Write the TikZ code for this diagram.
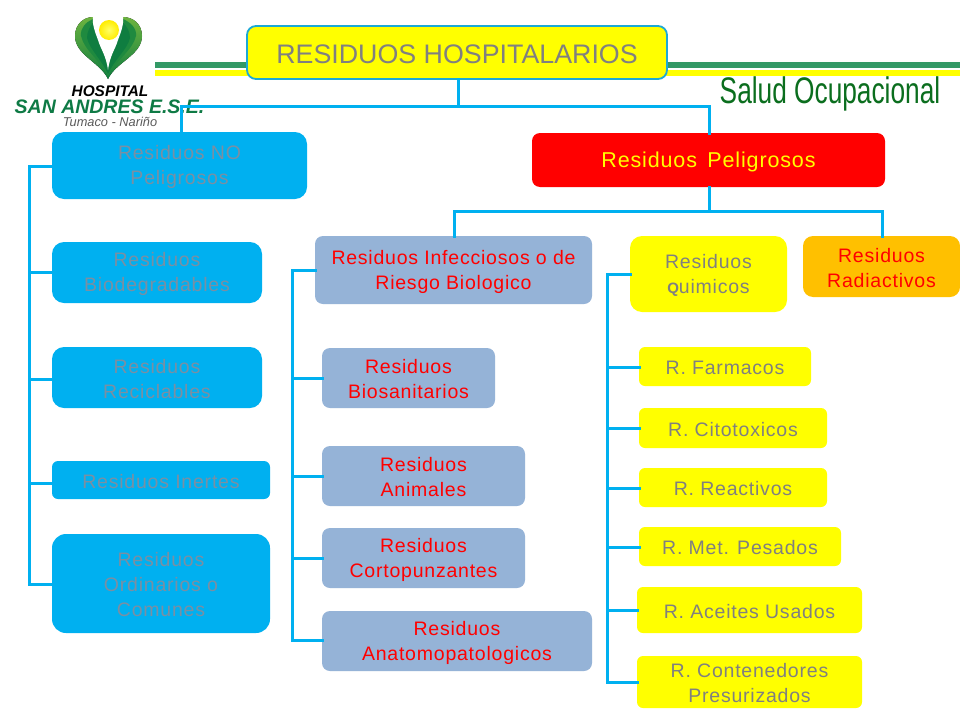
\documentclass[tikz,border=0pt]{standalone}
\usepackage{fontspec}
\setmainfont[LetterSpace=4]{Liberation Sans}
\newfontfamily\plainf{Liberation Sans}
\definecolor{cyanb}{HTML}{00B0F0}
\definecolor{titleb}{HTML}{1CA9D6}
\definecolor{steel}{HTML}{95B3D7}
\definecolor{ambr}{HTML}{FFC000}
\definecolor{gtxt}{HTML}{808080}
\definecolor{btxt}{HTML}{7A8FA3}
\definecolor{stripe}{HTML}{339966}
\definecolor{saludg}{HTML}{0B6E1E}
\definecolor{logog}{HTML}{0E7A45}
\definecolor{pureyel}{HTML}{FFFF00}
\definecolor{purered}{HTML}{FF0000}
\definecolor{lobea}{HTML}{6DB33F}
\definecolor{lobeb}{HTML}{0F7D40}
\definecolor{lobec}{HTML}{1F8A3F}
\tikzset{
 x=1pt,y=-1pt,
 boxbase/.style={rounded corners=#1,align=center,inner sep=0pt,font=\fontsize{19.5}{25}\selectfont},
 boxbase/.default=9pt,
 bluebox/.style={boxbase=12pt,fill=cyanb,text=btxt},
 steelbox/.style={boxbase=8pt,fill=steel,text=purered},
 yelbox/.style={boxbase=6pt,fill=pureyel,text=gtxt},
 conn/.style={draw=cyanb,line width=3pt,line cap=rect},
}
\newcommand{\bx}[7]{% style,name,x0,y0,x1,y1,text
 \path[#1] (#3,#4) rectangle (#5,#6) node[pos=.5,align=center,inner sep=0pt,yshift=-1.5pt] (#2) {#7};
}
\begin{document}
\begin{tikzpicture}
\useasboundingbox (0,0) rectangle (960,720);
\fill[white] (0,0) rectangle (960,720);
\fill[stripe] (155,62) rectangle (960,68);
\fill[pureyel] (155,70) rectangle (960,76);
% logo
\fill[top color=lobea,bottom color=lobeb] (108,79) .. controls (100,62) and (75,55) .. (75,36) .. controls (75,24) and (84,17) .. (93,17) -- (123,17) .. controls (133,17) and (142,24) .. (142,36) .. controls (142,55) and (116,62) .. (108,79) -- cycle;
\fill[lobec] (108,76) .. controls (100,60) and (84,50) .. (81,36) .. controls (80,28) and (86,22) .. (93,19) -- (123,19) .. controls (130,22) and (137,28) .. (136,36) .. controls (133,50) and (116,60) .. (108,76) -- cycle;
\fill[lobeb] (108,74) .. controls (102,60) and (90,50) .. (87,38) .. controls (87,32) and (90,26) .. (93,23) -- (123,23) .. controls (127,26) and (130,32) .. (130,38) .. controls (127,50) and (114,60) .. (108,74) -- cycle;
\fill[white] (108,70) .. controls (106,55) and (101,50) .. (98,40) .. controls (95,32) and (92,24) .. (93,17) -- (93,10) -- (123,10) -- (123,17) .. controls (124,24) and (121,32) .. (118,40) .. controls (115,50) and (110,55) .. (108,70) -- cycle;
\shade[inner color=pureyel!60!white,outer color=pureyel!85!orange] (109,30) circle (10);
\node[font=\plainf\fontsize{15.4}{15}\selectfont\bfseries\itshape,text=black,inner sep=0pt] (lg1) at (110,91) {HOSPITAL};
\node[font=\plainf\fontsize{19.5}{20}\selectfont\bfseries\itshape,text=logog,inner sep=0pt] (lg2) at (109.5,107) {SAN ANDRES E.S.E.};
\node[font=\plainf\fontsize{12.8}{12}\selectfont\itshape,text=gtxt!70!black,inner sep=0pt] (lg3) at (110,121.5) {Tumaco - Nariño};
\node[font=\plainf\fontsize{37}{37}\selectfont,text=saludg,inner sep=0pt,xscale=.71] (salud) at (830,94) {Salud Ocupacional};
% title
\bx{boxbase=9pt,fill=pureyel,draw=titleb,line width=1.8pt,text=gtxt}{title}{247}{26}{667}{79}{\plainf\fontsize{26.8}{28}\selectfont RESIDUOS HOSPITALARIOS}
% boxes
\bx{bluebox}{nop}{52}{132}{307}{199}{Residuos NO\\Peligrosos}
\bx{bluebox}{bio}{52}{242}{262}{303}{Residuos\\Biodegradables}
\bx{bluebox}{rec}{52}{347}{262}{408}{Residuos\\Reciclables}
\bx{boxbase=6pt,fill=cyanb,text=btxt}{ine}{52}{461}{270}{499}{Residuos Inertes}
\bx{boxbase=14pt,fill=cyanb,text=btxt}{ord}{52}{534}{270}{633}{Residuos\\Ordinarios o\\Comunes}
\bx{boxbase=8pt,fill=purered,text=pureyel}{pel}{532}{133}{885}{187}{\fontsize{21.5}{24}\selectfont Residuos\, Peligrosos}
\bx{steelbox}{inf}{315}{236}{592}{304}{Residuos Infecciosos o de\\Riesgo Biologico}
\bx{steelbox}{bsa}{322}{348}{495}{408}{Residuos\\Biosanitarios}
\bx{steelbox}{ani}{322}{446}{525}{506}{Residuos\\Animales}
\bx{steelbox}{cor}{322}{528}{525}{588}{Residuos\\Cortopunzantes}
\bx{steelbox}{ana}{322}{611}{592}{671}{Residuos\\Anatomopatologicos}
\bx{boxbase=12pt,fill=pureyel,text=gtxt}{qui}{630}{236}{787}{312}{Residuos\\{\fontsize{15}{25}\selectfont\bfseries Q}uimicos}
\bx{boxbase=10pt,fill=ambr,text=purered}{rad}{803}{236}{960}{297}{Residuos\\Radiactivos}
\bx{yelbox}{far}{639}{347}{811}{386}{R. Farmacos}
\bx{yelbox}{cit}{639}{408}{827}{448}{R. Citotoxicos}
\bx{yelbox}{rea}{639}{468}{827}{507}{R. Reactivos}
\bx{yelbox}{met}{639}{527}{841}{566}{R. Met. Pesados}
\bx{yelbox}{ace}{637}{587}{862}{633}{R. Aceites Usados}
\bx{yelbox}{con}{637}{656}{862}{708}{R. Contenedores\\Presurizados}
% connector coordinates
\coordinate (ttop) at (458,106);
\coordinate (ptop) at (709,211);
\coordinate (sl) at (29,166);
\coordinate (sm) at (292,270);
\coordinate (sr) at (607,274);
% connectors
\draw[conn] (458,79) -- (ttop);
\draw[conn] (181,132) -- (181,106) -- (709,106) -- (709,133);
\draw[conn] (709,187) -- (ptop);
\draw[conn] (454,236) -- (454,211) -- (882,211) -- (882,236);
\draw[conn] (52,166) -- (sl) -- (29,584) -- (52,584);
\draw[conn] (29,272) -- (52,272);
\draw[conn] (29,379) -- (52,379);
\draw[conn] (29,483) -- (52,483);
\draw[conn] (315,270) -- (sm) -- (292,640) -- (322,640);
\draw[conn] (292,378) -- (322,378);
\draw[conn] (292,476) -- (322,476);
\draw[conn] (292,558) -- (322,558);
\draw[conn] (630,274) -- (sr) -- (607,682) -- (637,682);
\draw[conn] (607,367) -- (639,367);
\draw[conn] (607,428) -- (639,428);
\draw[conn] (607,488) -- (639,488);
\draw[conn] (607,547) -- (639,547);
\draw[conn] (607,610) -- (637,610);
\end{tikzpicture}
\end{document}
